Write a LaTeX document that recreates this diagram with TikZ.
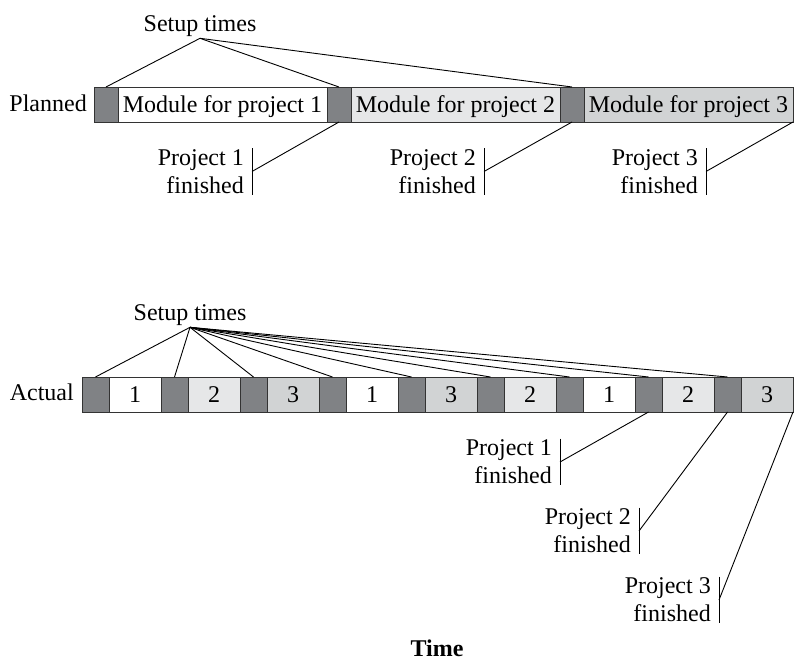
\documentclass[tikz,border=0pt]{standalone}
\usepackage{fontspec}
\setmainfont{Liberation Serif}
\definecolor{setupgray}{RGB}{128,130,133}
\definecolor{lightproj}{RGB}{230,231,232}
\definecolor{midproj}{RGB}{209,211,212}
\definecolor{edgegray}{RGB}{51,51,51}
\begin{document}
\begin{tikzpicture}[x=1pt, y=-1pt,
    font=\fontsize{24}{28}\selectfont,
    block/.style ={draw=edgegray, line width=0.9pt, minimum height=35pt,
                   inner sep=0pt, outer sep=0pt, anchor=west,
                   text height=16pt, text depth=0pt},
    setuptime/.style ={block, fill=setupgray},
    mod1/.style ={block, fill=white},
    mod2/.style ={block, fill=lightproj},
    mod3/.style ={block, fill=midproj},
    finished/.style ={align=right, anchor=east, inner xsep=8pt, inner ysep=1pt},
    link/.style ={line width=0.9pt}]
   \useasboundingbox (0,0) rectangle (794,660);

   % planned schedule
   \node[anchor=base east, inner sep=0pt] (planned) at (87,112) {Planned};
   \node[setuptime, minimum width=24pt] (ps1) at (94,104.5)  {};
   \node[mod1, minimum width=209pt] (pm1) at (118,104.5) {Module for project 1};
   \node[setuptime, minimum width=24pt] (ps2) at (327,104.5) {};
   \node[mod2, minimum width=209pt] (pm2) at (351,104.5) {Module for project 2};
   \node[setuptime, minimum width=24pt] (ps3) at (560,104.5) {};
   \node[mod3, minimum width=209pt] (pm3) at (584,104.5) {Module for project 3};

   \node[anchor=base, inner sep=1pt] (psetup) at (200,32) {Setup times};
   \draw[link] (psetup.south) to (ps1.north);
   \draw[link] (psetup.south) to (ps2.north);
   \draw[link] (psetup.south) to (ps3.north);

   \node[finished] (pf1) at (252,171.5) {Project 1\\finished};
   \node[finished] (pf2) at (484,171.5) {Project 2\\finished};
   \node[finished] (pf3) at (706,171.5) {Project 3\\finished};
   \draw[link] (pf1.north east) to (pf1.south east);
   \draw[link] (pf2.north east) to (pf2.south east);
   \draw[link] (pf3.north east) to (pf3.south east);
   \draw[link] (ps2.south) to (pf1.east);
   \draw[link] (ps3.south) to (pf2.east);
   \draw[link] (pm3.south east) to (pf3.east);

   % actual schedule
   \node[anchor=base east, inner sep=0pt] (actual) at (74,400) {Actual};
   \node[setuptime, minimum width=27pt] (as1) at (82,394.5)  {};
   \node[mod1, minimum width=52pt] (am1) at (109,394.5) {1};
   \node[setuptime, minimum width=27pt] (as2) at (161,394.5) {};
   \node[mod2, minimum width=52pt] (am2) at (188,394.5) {2};
   \node[setuptime, minimum width=27pt] (as3) at (240,394.5) {};
   \node[mod3, minimum width=52pt] (am3) at (267,394.5) {3};
   \node[setuptime, minimum width=27pt] (as4) at (319,394.5) {};
   \node[mod1, minimum width=52pt] (am4) at (346,394.5) {1};
   \node[setuptime, minimum width=27pt] (as5) at (398,394.5) {};
   \node[mod3, minimum width=52pt] (am5) at (425,394.5) {3};
   \node[setuptime, minimum width=27pt] (as6) at (477,394.5) {};
   \node[mod2, minimum width=52pt] (am6) at (504,394.5) {2};
   \node[setuptime, minimum width=27pt] (as7) at (556,394.5) {};
   \node[mod1, minimum width=52pt] (am7) at (583,394.5) {1};
   \node[setuptime, minimum width=27pt] (as8) at (635,394.5) {};
   \node[mod2, minimum width=52pt] (am8) at (662,394.5) {2};
   \node[setuptime, minimum width=27pt] (as9) at (714,394.5) {};
   \node[mod3, minimum width=52pt] (am9) at (741,394.5) {3};

   \node[anchor=base, inner sep=2pt] (asetup) at (190,320) {Setup times};
   \draw[link] (asetup.south) to (as1.north);
   \draw[link] (asetup.south) to (as2.north);
   \draw[link] (asetup.south) to (as3.north);
   \draw[link] (asetup.south) to (as4.north);
   \draw[link] (asetup.south) to (as5.north);
   \draw[link] (asetup.south) to (as6.north);
   \draw[link] (asetup.south) to (as7.north);
   \draw[link] (asetup.south) to (as8.north);
   \draw[link] (asetup.south) to (as9.north);

   \node[finished] (af1) at (560,462) {Project 1\\finished};
   \node[finished] (af2) at (639,531) {Project 2\\finished};
   \node[finished] (af3) at (719,600) {Project 3\\finished};
   \draw[link] (af1.north east) to (af1.south east);
   \draw[link] (af2.north east) to (af2.south east);
   \draw[link] (af3.north east) to (af3.south east);
   \draw[link] (as8.south) to (af1.east);
   \draw[link] (as9.south) to (af2.east);
   \draw[link] (am9.south east) to (af3.east);

   \node[font=\fontsize{24}{28}\selectfont\bfseries] (time) at (437,648) {Time};
 \end{tikzpicture}
\end{document}
